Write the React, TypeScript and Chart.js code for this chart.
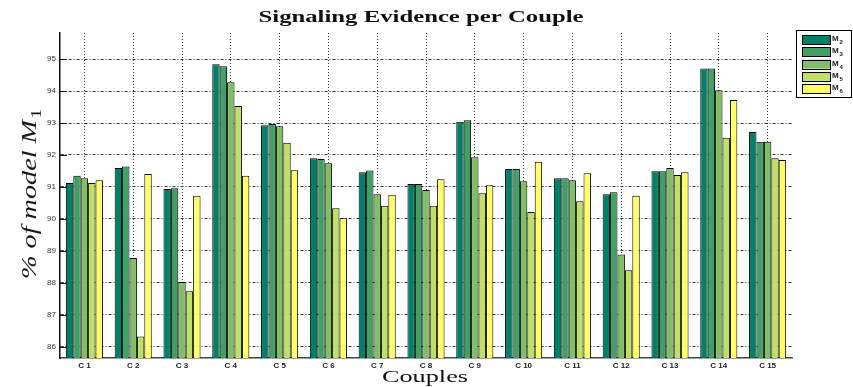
import React, { useEffect, useRef } from "react";
import { Chart, registerables } from "chart.js";

Chart.register(...registerables);

// ---------- data ----------
const categories = ["C 1", "C 2", "C 3", "C 4", "C 5", "C 6", "C 7", "C 8", "C 9", "C 10", "C 11", "C 12", "C 13", "C 14", "C 15"];
const seriesSubs = ["2", "3", "4", "5", "6"];
const M2 = [91.12, 91.59, 90.93, 94.84, 92.93, 91.9, 91.46, 91.09, 93.04, 91.56, 91.27, 90.77, 91.49, 94.71, 92.72];
const M3 = [91.35, 91.64, 90.96, 94.78, 92.97, 91.87, 91.51, 91.09, 93.09, 91.56, 91.27, 90.83, 91.49, 94.71, 92.41];
const M4 = [91.27, 88.77, 88.02, 94.28, 92.9, 91.74, 90.77, 90.9, 91.93, 91.18, 91.21, 88.88, 91.59, 94.03, 92.41];
const M5 = [91.12, 86.31, 87.73, 93.53, 92.38, 90.33, 90.41, 90.41, 90.8, 90.21, 90.55, 88.39, 91.37, 92.54, 91.9];
const M6 = [91.21, 91.4, 90.72, 91.35, 91.52, 90.02, 90.75, 91.24, 91.05, 91.79, 91.43, 90.72, 91.46, 93.72, 91.84];
const seriesValues = [M2, M3, M4, M5, M6];
const seriesColors = ["#008066", "#40a066", "#80bf66", "#bfdf66", "#ffff66"];
const yTicks = [86, 87, 88, 89, 90, 91, 92, 93, 94, 95];
const yMin = 85.64;
const yMax = 95.82;

const titleText = "Signaling Evidence per Couple";
const xTitleText = "Couples";
const yTitleMain = "% of model M";
const yTitleSub = "1";

function fitText(ctx: CanvasRenderingContext2D, text: string, font: string, cx: number, baseY: number, target: number) {
  ctx.save();
  ctx.font = font;
  const w = ctx.measureText(text).width;
  const s = target / w;
  ctx.translate(cx, baseY);
  ctx.scale(s, 1);
  ctx.textAlign = "left";
  ctx.textBaseline = "alphabetic";
  ctx.fillText(text, -w / 2, 0);
  ctx.restore();
}

const decorPlugin = {
  id: "decor",
  afterDraw(chart: any) {
    const ctx: CanvasRenderingContext2D = chart.ctx;
    const area = chart.chartArea;
    const yScale = chart.scales.y;
    ctx.save();
    ctx.fillStyle = "#111";
    // title
    fitText(ctx, titleText, 'bold 16px "Liberation Serif"', 421, 22, 325);
    // x title
    fitText(ctx, xTitleText, '17px "Liberation Serif"', 425, 382, 86);
    // y title (rotated, with subscript)
    ctx.save();
    ctx.translate(36, 194);
    ctx.rotate(-Math.PI / 2);
    const mainFont = 'italic 22px "Liberation Serif"';
    const subFont = '15px "Liberation Serif"';
    ctx.font = mainFont;
    const w1 = ctx.measureText(yTitleMain).width;
    ctx.font = subFont;
    const w2 = ctx.measureText(yTitleSub).width;
    const total = w1 + w2 + 1;
    const s = 170 / total;
    ctx.scale(s, 1);
    ctx.fillStyle = "#1a1a1a";
    ctx.textBaseline = "alphabetic";
    ctx.textAlign = "left";
    ctx.font = mainFont;
    ctx.fillText(yTitleMain, -total / 2, 0);
    ctx.font = subFont;
    ctx.fillText(yTitleSub, -total / 2 + w1 + 1, 5);
    ctx.restore();

    // inner y tick marks
    ctx.strokeStyle = "#111";
    ctx.lineWidth = 1;
    for (const v of yTicks) {
      const py = Math.round(yScale.getPixelForValue(v)) + 0.5;
      ctx.beginPath();
      ctx.moveTo(area.left, py);
      ctx.lineTo(area.left + 7, py);
      ctx.stroke();
    }

    // legend
    const lx = 796, ly = 30, lw = 55, lh = 67;
    ctx.fillStyle = "#fff";
    ctx.fillRect(lx, ly, lw, lh);
    ctx.strokeStyle = "#000";
    ctx.lineWidth = 1;
    ctx.strokeRect(lx + 0.5, ly + 0.5, lw, lh);
    for (let i = 0; i < seriesSubs.length; i++) {
      const ry = 35 + i * 12.3;
      ctx.fillStyle = seriesColors[i];
      ctx.fillRect(802, ry, 28, 9);
      ctx.strokeStyle = "#000";
      ctx.strokeRect(802.5, Math.round(ry) + 0.5, 28, 9);
      ctx.fillStyle = "#222";
      ctx.font = 'bold 8px "Liberation Sans"';
      ctx.textBaseline = "alphabetic";
      ctx.fillText("M", 832, ry + 6);
      ctx.font = 'bold 6px "Liberation Sans"';
      ctx.fillText(seriesSubs[i], 839.5, ry + 9);
    }
    ctx.restore();
  },
};

export default function App() {
  const ref = useRef<HTMLCanvasElement | null>(null);
  useEffect(() => {
    document.body.style.margin = "0";
    if (!ref.current) return;
    const chart = new Chart(ref.current, {
      type: "bar",
      data: {
        labels: categories,
        datasets: seriesValues.map((vals, i) => ({
          label: "M" + seriesSubs[i],
          data: vals,
          backgroundColor: seriesColors[i],
          borderColor: "#000",
          borderWidth: 1,
          categoryPercentage: 0.76,
          barPercentage: 1.0,
        })),
      },
      options: {
        responsive: false,
        animation: false,
        layout: { padding: { top: 33, right: 61, left: 0, bottom: 0 } },
        plugins: {
          legend: { display: false },
          title: { display: false },
          tooltip: { enabled: false },
        },
        scales: {
          x: {
            afterFit: (scale: any) => {
              scale.height = 29;
            },
            grid: {
              offset: false,
              color: "#333",
              lineWidth: 1,
              drawTicks: false,
            },
            border: { display: true, color: "#444", width: 1.5, dash: [1, 2] },
            ticks: {
              padding: 3,
              color: "#222",
              font: { family: '"Liberation Sans"', size: 8, weight: "bold" },
              maxRotation: 0,
              autoSkip: false,
            },
          },
          y: {
            min: yMin,
            max: yMax,
            afterFit: (scale: any) => {
              scale.width = 60;
            },
            afterBuildTicks: (scale: any) => {
              scale.ticks = yTicks.map((v) => ({ value: v }));
            },
            grid: {
              color: "#333",
              lineWidth: 1,
              drawTicks: false,
            },
            border: { display: true, color: "#111", width: 1.5, dash: [3, 2, 1, 2] },
            ticks: {
              padding: 4,
              color: "#333",
              font: { family: '"Liberation Sans"', size: 8 },
              callback: (v: any) => String(v),
            },
          },
        },
      },
      plugins: [decorPlugin],
    });
    return () => chart.destroy();
  }, []);
  return (
    <div style={{ width: 853, height: 387 }}>
      <canvas ref={ref} width={853} height={387} style={{ width: 853, height: 387, display: "block" }} />
    </div>
  );
}
